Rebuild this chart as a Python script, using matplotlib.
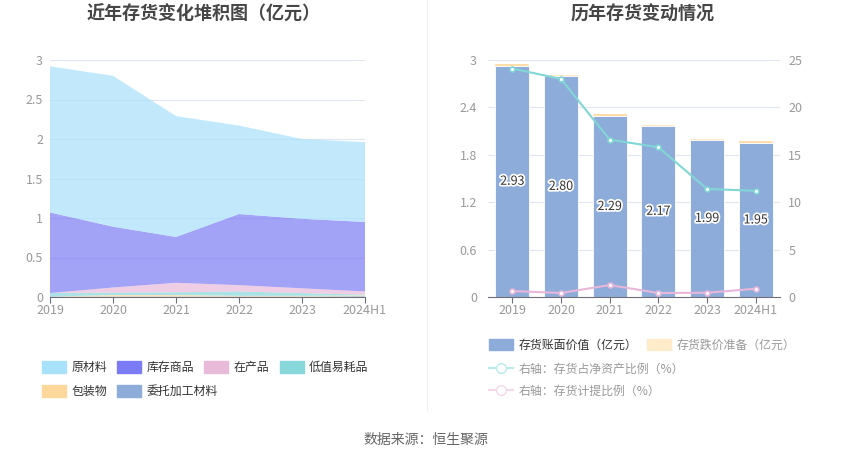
import matplotlib
matplotlib.use("Agg")
import matplotlib.pyplot as plt
import numpy as np
from matplotlib.patches import Patch
from matplotlib.lines import Line2D
import matplotlib.patheffects as pe

plt.rcParams['font.family'] = ['Noto Sans CJK SC', 'DejaVu Sans']

years = ["2019", "2020", "2021", "2022", "2023", "2024H1"]

# 左图：存货构成（亿元），自下而上
weituo = [0.005, 0.005, 0.005, 0.005, 0.005, 0.01]
baozhuang = [0.0, 0.02, 0.02, 0.01, 0.01, 0.01]
dizhi = [0.045, 0.03, 0.035, 0.055, 0.035, 0.01]
zaichan = [0.0, 0.065, 0.12, 0.08, 0.06, 0.04]
kucun = [1.02, 0.77, 0.58, 0.90, 0.88, 0.88]
yuancailiao = [1.85, 1.91, 1.53, 1.12, 1.01, 1.01]

# 右图
book_value = [2.93, 2.80, 2.29, 2.17, 1.99, 1.95]
impairment = [0.02, 0.01, 0.03, 0.01, 0.01, 0.02]
ratio_net_assets = [24.1, 23.0, 16.6, 15.8, 11.4, 11.2]
ratio_provision = [0.63, 0.42, 1.26, 0.42, 0.45, 0.87]

W, H = 850, 459
fig = plt.figure(figsize=(W / 100, H / 100), dpi=100)

def px_axes(x0, y0, x1, y1):
    return fig.add_axes([x0 / W, 1 - y1 / H, (x1 - x0) / W, (y1 - y0) / H])

tick_color = "#999999"
grid_color = "#e0e6f1"
axis_color = "#6e7079"
leg_kw = dict(frameon=False, fontsize=8.6, handlelength=2.0, handleheight=1.1,
              columnspacing=0.85, handletextpad=0.47, borderpad=0, borderaxespad=0)

# ---- left: stacked area ----
ax1 = px_axes(50, 60, 365, 297)
x = np.arange(len(years))
layers = [weituo, baozhuang, dizhi, zaichan, kucun, yuancailiao]
leg_cols = ["#8eacda", "#fdd89a", "#87d7db", "#e9b9d9", "#7b7cf5", "#a8e1fa"]
ax1.stackplot(x, *layers, colors=leg_cols, alpha=0.7, linewidth=0, zorder=2)
ax1.set_xlim(0, len(years) - 1)
ax1.set_ylim(0, 3)
ax1.set_yticks([0, 0.5, 1, 1.5, 2, 2.5, 3])
ax1.set_yticklabels(["0", "0.5", "1", "1.5", "2", "2.5", "3"])
ax1.set_xticks(x)
ax1.set_xticklabels(years)
ax1.grid(axis="y", color=grid_color, linewidth=0.8, zorder=0)
ax1.set_axisbelow(True)
for s in ["top", "right", "left"]:
    ax1.spines[s].set_visible(False)
ax1.spines["bottom"].set_color(axis_color)
ax1.spines["bottom"].set_zorder(3)
ax1.tick_params(axis="y", length=0, colors=tick_color, labelsize=9, pad=5)
ax1.tick_params(axis="x", length=4, color=axis_color, colors=tick_color, labelsize=9, pad=1)

fig.text(204 / W, 1 - 14 / H, "近年存货变化堆积图（亿元）", ha="center", va="center",
         fontsize=13, fontweight="bold", color="#464646")

leg_names = ["委托加工材料", "包装物", "低值易耗品", "在产品", "库存商品", "原材料"]
handles = [Patch(facecolor=c, edgecolor=c, label=n) for c, n in zip(leg_cols, leg_names)][::-1]
l1 = fig.legend(handles=handles[:4], loc="center left", bbox_to_anchor=(42 / W, 1 - 367.5 / H),
                ncol=4, **leg_kw)
l2 = fig.legend(handles=handles[4:], loc="center left", bbox_to_anchor=(42 / W, 1 - 391.5 / H),
                ncol=2, **leg_kw)
for t in l1.get_texts() + l2.get_texts():
    t.set_color("#333333")

# separator
fig.add_artist(Line2D([427 / W, 427 / W], [1 - 0 / H, 1 - 410 / H], color="#f0f0f0", linewidth=0.8))

# ---- right: bars + lines ----
ax2 = px_axes(488, 60, 780, 297)
bar_col = "#8eacda"
imp_col = "#fdd592"
ax2.bar(x, book_value, width=0.7, color=bar_col, edgecolor="white", linewidth=0.6, zorder=2)
ax2.bar(x, impairment, bottom=book_value, width=0.7, color=imp_col, edgecolor="white", linewidth=0.3, zorder=2)
for xi, v in zip(x, book_value):
    ax2.text(xi, v / 2, f"{v:.2f}", ha="center", va="center", fontsize=9, color="#333333",
             zorder=5, path_effects=[pe.withStroke(linewidth=2.5, foreground="white")])
ax2.set_xlim(-0.5, len(years) - 0.5)
ax2.set_ylim(0, 3)
ax2.set_yticks([0, 0.6, 1.2, 1.8, 2.4, 3])
ax2.set_yticklabels(["0", "0.6", "1.2", "1.8", "2.4", "3"])
ax2.set_xticks(x)
ax2.set_xticklabels(years)
ax2.grid(axis="y", color=grid_color, linewidth=0.8, zorder=0)
ax2.set_axisbelow(True)
for s in ["top", "right", "left"]:
    ax2.spines[s].set_visible(False)
ax2.spines["bottom"].set_color(axis_color)
ax2.tick_params(axis="y", length=0, colors=tick_color, labelsize=9, pad=8)
ax2.tick_params(axis="x", length=4, color=axis_color, colors=tick_color, labelsize=9, pad=1)

ax3 = ax2.twinx()
cyan = "#80d7d5"
pink = "#e8b7d9"
ax3.plot(x, ratio_net_assets, color=cyan, linewidth=1.5, marker="o", markersize=3.5,
         markerfacecolor="white", markeredgecolor=cyan, markeredgewidth=1.2, zorder=4)
ax3.plot(x, ratio_provision, color=pink, linewidth=1.5, marker="o", markersize=3.5,
         markerfacecolor="white", markeredgecolor=pink, markeredgewidth=1.2, zorder=4)
ax3.set_ylim(0, 25)
ax3.set_yticks([0, 5, 10, 15, 20, 25])
for s in ["top", "right", "left", "bottom"]:
    ax3.spines[s].set_visible(False)
ax3.tick_params(axis="y", length=0, colors=tick_color, labelsize=9, pad=6)

fig.text(643 / W, 1 - 14 / H, "历年存货变动情况", ha="center", va="center",
         fontsize=13, fontweight="bold", color="#464646")

h_bar = [Patch(facecolor=bar_col, edgecolor=bar_col, label="存货账面价值（亿元）"),
         Patch(facecolor="#feebc9", edgecolor="#feebc9", label="存货跌价准备（亿元）")]
l3 = fig.legend(handles=h_bar, loc="center left", bbox_to_anchor=(489 / W, 1 - 345 / H),
                ncol=2, **leg_kw)
l3.get_texts()[0].set_color("#333333")
l3.get_texts()[1].set_color("#999999")
h_line = [Line2D([0], [0], color="#b9ecea", marker="o", markersize=7, markerfacecolor="white",
                 markeredgecolor="#b9ecea", linewidth=1.5, label="右轴：存货占净资产比例（%）")]
l4 = fig.legend(handles=h_line, loc="center left", bbox_to_anchor=(489 / W, 1 - 369 / H), **leg_kw)
h_line2 = [Line2D([0], [0], color="#f4d9eb", marker="o", markersize=7, markerfacecolor="white",
                  markeredgecolor="#f4d9eb", linewidth=1.5, label="右轴：存货计提比例（%）")]
l5 = fig.legend(handles=h_line2, loc="center left", bbox_to_anchor=(489 / W, 1 - 391 / H), **leg_kw)
for t in l4.get_texts() + l5.get_texts():
    t.set_color("#999999")

fig.text(425.5 / W, 1 - 440 / H, "数据来源：恒生聚源", ha="center", va="center",
         fontsize=10, color="#666666")

fig.savefig("out.png", dpi=100)
